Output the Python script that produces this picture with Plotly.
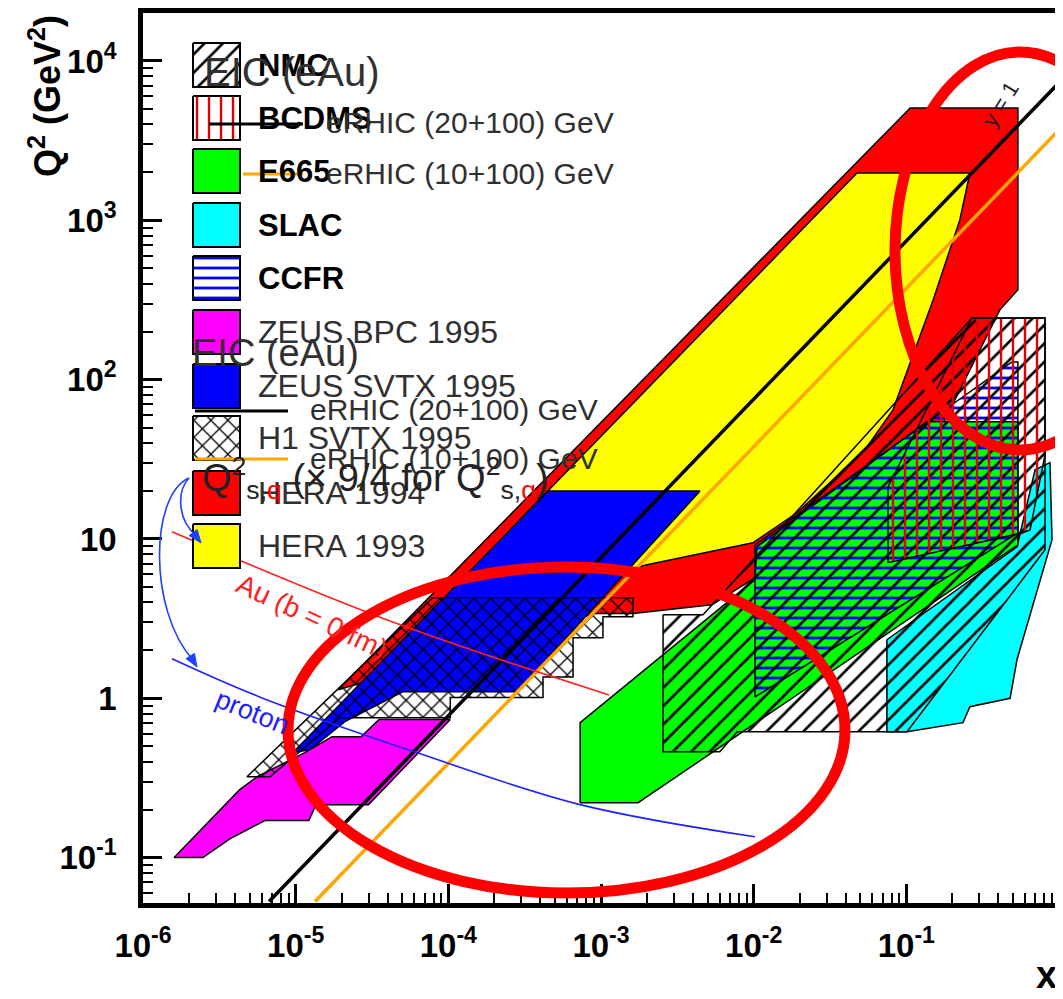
import plotly.graph_objects as go

FONT = "Liberation Sans"

# ---------------- kinematic coverage regions (x, Q^2 in GeV^2) ----------------
hera94_x = [1.9e-5, 0.106, 0.538, 0.538, 0.41, 0.166, 0.011, 5.33e-3, 1.62e-3, 9.1e-4]
hera94_q2 = [1.13, 5070, 5070, 366, 274, 48.4, 5.96, 3.86, 3.40, 3.40]

hera93_x = [2.94e-4, 0.0475, 0.261, 0.224, 0.150, 0.106, 0.0818, 0.0552, 0.0331, 0.0192, 9.9e-3, 2.0e-3, 1.48e-3]
hera93_q2 = [13.2, 1980, 1980, 1005, 317, 127, 64.6, 37.8, 23.5, 14.6, 9.46, 6.88, 6.41]

zeus_svtx_x = [4.5e-4, 4.45e-3, 2.82e-4, 5.05e-5, 2.1e-5, 1.24e-5, 9.6e-6]
zeus_svtx_q2 = [20, 20, 1.10, 1.10, 0.713, 0.475, 0.456]

zeus_bpc_x = [1.03e-4, 3.52e-5, 2.68e-5, 1.73e-5, 1.15e-5, 5.6e-6, 4.3e-6, 1.6e-6, 2.47e-6,
              3.7e-6, 6.3e-6, 1.22e-5, 1.36e-5, 3.0e-5]
zeus_bpc_q2 = [0.735, 0.735, 0.574, 0.574, 0.456, 0.322, 0.267, 0.1, 0.1, 0.131, 0.171, 0.171, 0.215, 0.215]

h1_svtx_x = [7.9e-5, 1.62e-3, 1.62e-3, 1.03e-3, 1.03e-3, 6.56e-4, 6.56e-4, 4.17e-4, 4.17e-4,
             1.03e-4, 1.03e-4, 1.95e-5, 6.8e-6, 4.8e-6]
h1_svtx_q2 = [4.28, 4.28, 3.25, 3.25, 2.40, 2.40, 1.36, 1.36, 1.01, 1.01, 0.755, 0.755, 0.322, 0.322]

slac_x = [0.0746, 0.531, 0.697, 0.873, 0.9, 0.531, 0.478, 0.261, 0.235, 0.101, 0.0746]
slac_q2 = [2.33, 8.93, 27.2, 30.1, 9.9, 1.75, 1.0, 0.885, 0.703, 0.616, 0.616]

e665_x = [7.3e-4, 7.3e-4, 0.0102, 0.0105, 0.136, 0.538, 0.538, 1.75e-3]
e665_q2 = [0.221, 0.703, 5.55, 8.93, 54.3, 54.3, 9.18, 0.221]

ccfr_x = [0.0102, 0.492, 0.538, 0.538, 0.0102]
ccfr_q2 = [9.18, 129, 129, 10.9, 1.02]

nmc_x = [2.55e-3, 4.66e-3, 0.269, 0.81, 0.81, 0.101, 7.8e-3, 6.0e-3, 2.55e-3]
nmc_q2 = [3.34, 3.34, 244, 244, 8.55, 0.616, 0.616, 0.462, 0.462]

bcdms_x = [0.0759, 0.0759, 0.269, 0.81, 0.81, 0.646, 0.573]
bcdms_q2 = [7.1, 21.2, 244, 244, 33.7, 11.4, 10.9]

# ---------------- lines ----------------
erhic20_x = [6.7e-6, 1.0]
erhic20_q2 = [0.053, 7300]
erhic10_x = [1.34e-5, 1.0]
erhic10_q2 = [0.053, 3690]
au_x = [1.55e-6, 4.8e-5, 1.13e-3]
au_q2 = [11.1, 2.9, 1.05]
proton_x = [1.55e-6, 5.8e-6, 6.2e-5, 7.3e-4, 0.0102]
proton_q2 = [1.77, 1.02, 0.456, 0.215, 0.135]

# ---------------- ticks ----------------
x_tickvals = [1e-6, 1e-5, 1e-4, 1e-3, 1e-2, 1e-1, 1]
x_ticktext = ["10<sup>-6</sup>", "10<sup>-5</sup>", "10<sup>-4</sup>", "10<sup>-3</sup>",
              "10<sup>-2</sup>", "10<sup>-1</sup>", "1"]
y_tickvals = [0.1, 1, 10, 100, 1000, 10000]
y_ticktext = ["10<sup>-1</sup>", "1", "10", "10<sup>2</sup>", "10<sup>3</sup>", "10<sup>4</sup>"]

# ---------------- legend ----------------
leg_names = ["NMC", "BCDMS", "E665", "SLAC", "CCFR", "ZEUS BPC 1995", "ZEUS SVTX 1995",
             "H1 SVTX 1995", "HERA 1994", "HERA 1993"]
leg_bold = [True, True, True, True, True, False, False, False, False, False]
eic_labels = ["EIC (eAu)", "eRHIC (20+100) GeV", "eRHIC (10+100) GeV"]

# styles: (fill colour, pattern shape, pattern colour)
STYLE = {
    "NMC": ("rgba(0,0,0,0)", "/", "black"),
    "BCDMS": ("rgba(0,0,0,0)", "|", "#e00000"),
    "E665": ("#00ff00", "", None),
    "SLAC": ("#00ffff", "", None),
    "CCFR": ("rgba(0,0,0,0)", "-", "#0000ff"),
    "ZEUS BPC 1995": ("#ff00ff", "", None),
    "ZEUS SVTX 1995": ("#0000ff", "", None),
    "H1 SVTX 1995": ("rgba(0,0,0,0)", "x", "black"),
    "HERA 1994": ("#ff0000", "", None),
    "HERA 1993": ("#ffff00", "", None),
}
PAT = {"/": (13, 0.2), "|": (12, 0.2), "-": (10, 0.28), "x": (12, 0.2)}


def region(name, xs, ys, xaxis="x", yaxis="y", lw=1.5):
    fc, shape, pc = STYLE[name]
    kw = {}
    if shape:
        size, sol = PAT[shape]
        kw["fillpattern"] = dict(shape=shape, fgcolor=pc, fgopacity=1, bgcolor="rgba(0,0,0,0)",
                                 size=size, solidity=sol, fillmode="overlay")
    return go.Scatter(x=list(xs) + [xs[0]], y=list(ys) + [ys[0]], mode="lines",
                      fill="toself", fillcolor=fc, line=dict(color="black", width=lw),
                      hoverinfo="skip", xaxis=xaxis, yaxis=yaxis, **kw)


fig = go.Figure()
for nm, xs, ys in [("HERA 1994", hera94_x, hera94_q2), ("HERA 1993", hera93_x, hera93_q2),
                   ("ZEUS SVTX 1995", zeus_svtx_x, zeus_svtx_q2), ("ZEUS BPC 1995", zeus_bpc_x, zeus_bpc_q2),
                   ("H1 SVTX 1995", h1_svtx_x, h1_svtx_q2), ("SLAC", slac_x, slac_q2),
                   ("E665", e665_x, e665_q2), ("CCFR", ccfr_x, ccfr_q2),
                   ("NMC", nmc_x, nmc_q2), ("BCDMS", bcdms_x, bcdms_q2)]:
    fig.add_trace(region(nm, xs, ys))

fig.add_trace(go.Scatter(x=erhic20_x, y=erhic20_q2, mode="lines", line=dict(color="black", width=3.5), hoverinfo="skip"))
fig.add_trace(go.Scatter(x=erhic10_x, y=erhic10_q2, mode="lines", line=dict(color="#ffa500", width=3.5), hoverinfo="skip"))
fig.add_trace(go.Scatter(x=au_x, y=au_q2, mode="lines", line=dict(color="#ff2020", width=1.6, shape="spline"), hoverinfo="skip"))
fig.add_trace(go.Scatter(x=proton_x, y=proton_q2, mode="lines", line=dict(color="#2020ff", width=1.6, shape="spline"), hoverinfo="skip"))

# ---------------- overlay (window-pixel) coordinate system for legends & decorations ----------------
PAGE_OFF = 8                      # default body margin of the html page
PX0, PX1, PY0, PY1 = 143, 1059, 13, 903
W, H = 1063, 999
BOX_X0, BOX_X1, BOX_H = 193, 240, 22
LEG_Y = [65, 118, 171, 225, 278, 332, 386, 438, 493, 546]
LABEL_X = 259


def px2paper(px, py):
    return (px - PX0) / (PX1 - PX0), (PY1 - py) / (PY1 - PY0)


annotations = []
for nm, cy, bold in zip(leg_names, LEG_Y, leg_bold):
    bx = [BOX_X0, BOX_X1, BOX_X1, BOX_X0]
    by = [cy - BOX_H, cy - BOX_H, cy + BOX_H, cy + BOX_H]
    fig.add_trace(region(nm, bx, by, xaxis="x2", yaxis="y2", lw=2))
    annotations.append(dict(x=LABEL_X - 3, y=cy, xref="x2", yref="y2", xanchor="left", yanchor="middle",
                            text=("<b>%s</b>" % nm) if bold else nm, showarrow=False,
                            font=dict(family=FONT, size=31 if bold else 32, color="black" if bold else "#303030")))

# EIC legend (appears twice)
EIC_COPIES = [
    dict(tx=205, ty=72, tsize=40, lx0=209, lx1=303, lx0b=243, l1y=124, l2y=174, labx=327),
    dict(tx=193, ty=353, tsize=38, lx0=195, lx1=288, lx0b=195, l1y=411, l2y=459, labx=311),
]
for c in EIC_COPIES:
    annotations.append(dict(x=c["tx"] - 3, y=c["ty"], xref="x2", yref="y2", xanchor="left", yanchor="middle",
                            text=eic_labels[0], showarrow=False, font=dict(family=FONT, size=c["tsize"], color="#303030")))
    fig.add_trace(go.Scatter(x=[c["lx0"], c["lx1"]], y=[c["l1y"], c["l1y"]], mode="lines",
                             line=dict(color="black", width=3), xaxis="x2", yaxis="y2", hoverinfo="skip"))
    fig.add_trace(go.Scatter(x=[c["lx0b"], c["lx1"]], y=[c["l2y"], c["l2y"]], mode="lines",
                             line=dict(color="#ffa500", width=3), xaxis="x2", yaxis="y2", hoverinfo="skip"))
    for lab, yy in zip(eic_labels[1:], [c["l1y"] - 2, c["l2y"] - 1]):
        annotations.append(dict(x=c["labx"] - 3, y=yy, xref="x2", yref="y2", xanchor="left", yanchor="middle",
                                text=lab, showarrow=False, font=dict(family=FONT, size=30, color="#303030")))

annotations.append(dict(x=200, y=478, xref="x2", yref="y2", xanchor="left", yanchor="middle", showarrow=False,
                        text="Q<sup>2</sup><sub>s,<span style='color:#ff0000'>q</span></sub> (× 9/4 for Q<sup>2</sup><sub>s,<span style='color:#ff0000'>g</span></sub>)",
                        font=dict(family=FONT, size=38, color="#222222")))

annotations.append(dict(x=312, y=616, xref="x2", yref="y2", text="Au (b = 0 fm)", showarrow=False, textangle=25,
                        font=dict(family=FONT, size=28, color="#ff2020")))
annotations.append(dict(x=252, y=712, xref="x2", yref="y2", text="proton", showarrow=False, textangle=22,
                        font=dict(family=FONT, size=27, color="#2020ff")))
annotations.append(dict(x=1000, y=104, xref="x2", yref="y2", text="y = 1", showarrow=False, textangle=-58,
                        font=dict(family=FONT, size=22, color="#222222")))

# axis titles (paper coordinates)
qx, qy = px2paper(45, 96)
annotations.append(dict(x=qx, y=qy, xref="paper", yref="paper", xanchor="center", yanchor="middle",
                        text="<b>Q<sup>2</sup> (GeV<sup>2</sup>)</b>",
                        showarrow=False, textangle=-90, font=dict(family=FONT, size=36, color="black")))
tx, ty = px2paper(1046, 975)
annotations.append(dict(x=tx, y=ty, xref="paper", yref="paper", xanchor="center", yanchor="middle",
                        text="<b>x</b>", showarrow=False,
                        font=dict(family=FONT, size=38, color="black")))

shapes = [
    # highlight ellipses
    dict(type="circle", xref="x2", yref="y2", x0=895, x1=1145, y0=52, y1=450, line=dict(color="#ff0000", width=11)),
    dict(type="circle", xref="x2", yref="y2", x0=288, x1=845, y0=567, y1=893, line=dict(color="#ff0000", width=11)),
    # curved arrows
    dict(type="path", xref="x2", yref="y2", path="M 189,478 C 176,492 178,522 197,536", line=dict(color="#2040ff", width=1.6)),
    dict(type="path", xref="x2", yref="y2", path="M 189,478 C 150,495 148,610 193,660", line=dict(color="#2040ff", width=1.6)),
    dict(type="path", xref="x2", yref="y2", path="M 201,543 L 197.2,529.6 L 189.2,535.6 Z",
         fillcolor="#2040ff", line=dict(color="#2040ff", width=1)),
    dict(type="path", xref="x2", yref="y2", path="M 197,667 L 194.5,653.4 L 186,658.6 Z",
         fillcolor="#2040ff", line=dict(color="#2040ff", width=1)),
]

axis_common = dict(showgrid=False, zeroline=False, showline=True, linewidth=4.5, linecolor="black",
                   mirror=True, ticks="inside", ticklen=19, tickwidth=2.5, tickcolor="black",
                   tickfont=dict(family=FONT, size=33, color="black"),
                   minor=dict(ticks="inside", ticklen=10, tickwidth=2, tickcolor="black", dtick="D1", showgrid=False))

fig.update_layout(
    width=W - PAGE_OFF, height=H - PAGE_OFF,
    margin=dict(l=PX0 - PAGE_OFF, r=W - PX1, t=PY0 - PAGE_OFF, b=H - PY1, autoexpand=False),
    plot_bgcolor="white", paper_bgcolor="white", showlegend=False,
    xaxis=dict(type="log", range=[-6, 0], tickmode="array", tickvals=x_tickvals, ticklabelstandoff=10,
               ticktext=["<b>%s</b>" % t for t in x_ticktext], **axis_common),
    yaxis=dict(type="log", range=[-1.285, 4.301], tickmode="array", tickvals=y_tickvals, ticklabelstandoff=15,
               ticktext=["<b>%s</b>" % t for t in y_ticktext], **axis_common),
    xaxis2=dict(overlaying="x", anchor="y2", range=[PX0, PX1], visible=False, fixedrange=True),
    yaxis2=dict(overlaying="y", anchor="x2", range=[PY1, PY0], visible=False, fixedrange=True),
    annotations=annotations, shapes=shapes,
)

fig.write_html("out.html")
